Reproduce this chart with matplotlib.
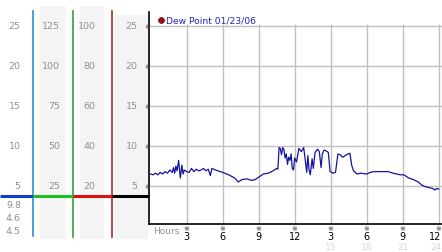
import matplotlib
matplotlib.use("Agg")
import matplotlib.pyplot as plt
from matplotlib.transforms import blended_transform_factory as btf

# ---------------- data ----------------
hours = [0, 0.2, 0.4, 0.6, 0.8, 1.0, 1.2, 1.4, 1.6, 1.8, 1.9, 2.0, 2.1, 2.2, 2.33, 2.47, 2.6, 2.7, 2.8, 3.0,
         3.2, 3.4, 3.6, 3.8, 4.0, 4.2, 4.4, 4.6, 4.8, 4.97, 5.1, 5.4, 5.6, 5.8, 6.0, 6.5, 7.0, 7.3, 7.6, 8.0,
         8.4, 8.7, 9.0, 9.4, 9.8, 10.2, 10.5, 10.6, 10.7, 10.8, 10.9, 11.0, 11.1, 11.2, 11.3, 11.4, 11.5, 11.6,
         11.7, 11.8, 11.9, 12.0, 12.15, 12.35, 12.55, 12.75, 12.9, 13.0, 13.1, 13.2, 13.3, 13.45, 13.55, 13.7,
         13.9, 14.05, 14.2, 14.3, 14.45, 14.6, 14.8, 14.95, 15.2, 15.4, 15.6, 15.8, 16.0, 16.3, 16.6, 16.75,
         16.9, 17.2, 17.5, 18.0, 18.3, 18.6, 19.0, 19.5, 19.8, 20.2, 20.5, 20.8, 21.1, 21.5, 21.9, 22.3, 22.6,
         22.9, 23.2, 23.5, 23.7, 23.85, 24.0]
dew_point = [6.5, 6.4, 6.6, 6.4, 6.7, 6.5, 6.8, 6.6, 7.0, 6.7, 7.3, 6.6, 7.5, 6.9, 8.2, 6.0, 7.6, 6.5, 7.0, 6.8,
             6.7, 7.2, 6.8, 7.1, 6.9, 7.0, 7.2, 6.9, 7.1, 6.3, 7.2, 7.0, 6.9, 6.8, 6.7, 6.4, 6.0, 5.5, 5.8, 5.9,
             5.7, 5.8, 6.1, 6.5, 6.6, 6.9, 7.2, 7.1, 9.8, 9.7, 8.9, 9.8, 9.6, 8.5, 9.0, 7.7, 8.6, 8.2,
             9.0, 7.2, 7.0, 8.5, 8.0, 9.7, 9.3, 9.8, 8.0, 6.7, 8.8, 7.0, 6.4, 8.4, 7.2, 9.2,
             9.6, 9.3, 7.3, 9.0, 9.5, 9.4, 9.2, 6.8, 6.6, 6.7, 9.0, 8.9, 8.6, 8.9, 9.1, 7.6,
             6.9, 6.5, 6.6, 6.5, 6.7, 6.8, 6.8, 6.8, 6.8, 6.6, 6.5, 6.4, 6.4, 6.0, 5.8, 5.5, 5.1,
             4.9, 4.8, 4.7, 4.5, 4.7, 4.6]
x_ticks = [3, 6, 9, 12, 15, 18, 21, 24]
x_tick_labels = ["3", "6", "9", "12", "3", "6", "9", "12"]
x_sub_labels = ["", "", "", "", "15", "18", "21", "24"]
y_ticks = [5, 10, 15, 20, 25]
col_labels = [
    ["5", "10", "15", "20", "25"],
    ["25", "50", "75", "100", "125"],
    ["20", "40", "60", "80", "100"],
    ["5", "10", "15", "20", "25"],
]
legend_label = "Dew Point 01/23/06"

# ---------------- layout ----------------
W, H = 442, 253
fig = plt.figure(figsize=(W / 100, H / 100), dpi=100)
fig.patch.set_facecolor("white")

ov = fig.add_axes([0, 0, 1, 1], zorder=0)
ov.set_xlim(0, W)
ov.set_ylim(H, 0)
ov.axis("off")

ax = fig.add_axes([149 / W, (H - 225) / H, (W - 149) / W, (225 - 13) / H], zorder=2)
ax.set_facecolor("none")
ax.set_xlim(-0.14, 24.275)
ax.set_ylim(0.25, 26.75)

# grey column backgrounds
for x0, x1, y0, y1 in [(40, 66, 7, 240), (80, 104, 7, 240), (115, 148, 16, 240)]:
    ov.fill_between([x0, x1], y0, y1, color="#f4f4f4", lw=0)

# colored vertical lines
ov.plot([33.3, 33.3], [12, 237], color="#2a90c8", lw=1.2)
ov.plot([72.5, 72.5], [12, 238], color="#30a030", lw=1.2)
ov.plot([111.5, 111.5], [12, 238], color="#b02828", lw=1.2)

# colored horizontal baseline
ov.plot([0, 33.3], [197, 197], color="#1040d0", lw=2.2, solid_capstyle="butt")
ov.plot([33.3, 72.5], [197, 197], color="#20c020", lw=2.2, solid_capstyle="butt")
ov.plot([72.5, 111.5], [197, 197], color="#e01010", lw=2.2, solid_capstyle="butt")
ov.plot([111.5, 149], [197, 197], color="black", lw=2.2, solid_capstyle="butt")

# column labels (placed on the main value scale)
tr = btf(ov.transData, ax.transData)
grey = "#909090"
for xr, labels in zip([20.5, 60, 95.5, 137.5], col_labels):
    for v, lab in zip(y_ticks, labels):
        ov.text(xr, v, lab, transform=tr, ha="right", va="center", fontsize=6.8, color=grey)

# summary values: max, current, min
for yy, val in zip([205.5, 219, 232], [max(dew_point), dew_point[-1], min(dew_point)]):
    ov.text(21, yy, f"{val:.1f}", ha="right", va="center", fontsize=6.8, color=grey)

# ---------------- main chart ----------------
for s in ["top", "right"]:
    ax.spines[s].set_visible(False)
ax.spines["left"].set_color("black")
ax.spines["bottom"].set_color("black")
ax.spines["left"].set_linewidth(1.2)
ax.spines["bottom"].set_linewidth(1.2)

ax.hlines(y_ticks, -0.14, 24.275, color="#c0c0c0", lw=1, zorder=1)
ax.vlines(x_ticks, 0.25, 25.25, color="#c0c0c0", lw=1, zorder=1)

ax.plot(hours, dew_point, color="#1414a0", lw=0.9, zorder=3)

ax.set_xticks([])
ax.set_yticks([])

# left small tick marks
for v in y_ticks:
    ax.text(-0.28, v, "※", ha="center", va="center", fontsize=5, color="#333333", clip_on=False)

# x tick labels
trx = btf(ax.transData, ov.transData)
n = len(x_ticks)
for i, (xt, lab, sub) in enumerate(zip(x_ticks, x_tick_labels, x_sub_labels)):
    last = i == n - 1
    ov.text(xt, 229.5, "※", transform=trx, ha="center", va="center", fontsize=5, color="#333333")
    if last:
        ov.text(W - 0.5, 237, lab, ha="right", va="center", fontsize=7, color="black")
        if sub:
            ov.text(W - 0.5, 247.5, sub, ha="right", va="center", fontsize=6.5, color="#d8d8d8")
    else:
        ov.text(xt, 237, lab, transform=trx, ha="center", va="center", fontsize=7, color="black")
        if sub:
            ov.text(xt, 247.5, sub, transform=trx, ha="center", va="center", fontsize=6.5, color="#d8d8d8")
ov.text(153, 232, "Hours", ha="left", va="center", fontsize=6.5, color=grey)

# legend
ov.plot([161], [20.5], "o", color="#a01010", ms=4.2, mec="#600000", mew=0.5)
ov.text(165.5, 20.5, legend_label, ha="left", va="center", fontsize=6.6, color="#2222c0")

fig.savefig("out.png", dpi=100)
